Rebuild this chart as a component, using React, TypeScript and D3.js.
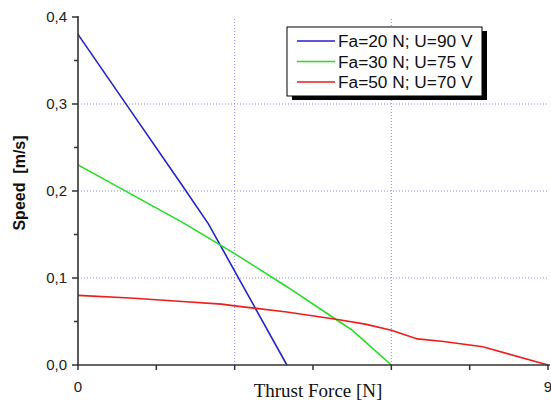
import React from 'react';
import * as d3 from 'd3';

// Speed vs thrust force, three test settings
const forceBlue = [0, 1, 2, 2.5, 3, 4];
const speedBlue = [0.38, 0.293, 0.206, 0.162, 0.108, 0];

const forceGreen = [0, 1, 2, 3, 4, 5, 5.25, 6];
const speedGreen = [0.23, 0.197, 0.164, 0.128, 0.09, 0.05, 0.04, 0];

const forceRed = [0, 1, 2, 2.75, 3, 4, 5, 5.5, 6, 6.5, 7, 7.75, 9];
const speedRed = [0.08, 0.077, 0.073, 0.07, 0.068, 0.061, 0.052, 0.047, 0.04, 0.03, 0.027, 0.021, 0];

const seriesNames = ['Fa=20 N; U=90 V', 'Fa=30 N; U=75 V', 'Fa=50 N; U=70 V'];
const seriesColors = ['#2323cc', '#22dd22', '#ee1c1c'];

const yMajor = [0, 0.1, 0.2, 0.3, 0.4];
const yMinor = [0.05, 0.15, 0.25, 0.35];
const xMajor = [0, 3, 6, 9];
const xMinor = [1.5, 4.5, 7.5];
const xLabelled = [0, 9];
const xGrid = [3, 6];
const yGrid = [0.1, 0.2, 0.3];

const W = 551;
const H = 401;

const App = () => {
    const x = d3.scaleLinear().domain([0, 9]).range([78, 548]);
    const y = d3.scaleLinear().domain([0, 0.4]).range([365, 17]);

    const series = [
        { f: forceBlue, s: speedBlue },
        { f: forceGreen, s: speedGreen },
        { f: forceRed, s: speedRed },
    ].map((d, i) => ({
        pts: d.f.map((v, j) => [v, d.s[j]] as [number, number]),
        color: seriesColors[i],
        name: seriesNames[i],
    }));

    const line = d3.line<[number, number]>()
        .x(d => x(d[0]))
        .y(d => y(d[1]));

    const fmt = (v: number) => v.toFixed(1).replace('.', ',');
    const sans = '"Liberation Sans", Arial, sans-serif';

    // legend box
    const lg = { x: 287, y: 27, w: 195, h: 69 };

    return (
        <svg width={W} height={H} style={{ position: 'absolute', left: 0, top: 0, background: '#fff' }}>
            <rect x={0} y={0} width={W} height={H} fill="#fff" />

            {/* grid */}
            {xGrid.map(v => (
                <line key={'gx' + v} x1={x(v)} x2={x(v)} y1={y(0)} y2={y(0.4)}
                    stroke="#8a8af0" strokeWidth={1} strokeDasharray="1,2" />
            ))}
            {yGrid.map(v => (
                <line key={'gy' + v} x1={x(0)} x2={x(9)} y1={y(v)} y2={y(v)}
                    stroke="#8a8af0" strokeWidth={1} strokeDasharray="1,2" />
            ))}

            {/* data lines */}
            {series.map(s => (
                <path key={s.name} d={line(s.pts) || ''} fill="none" stroke={s.color} strokeWidth={1.6} />
            ))}

            {/* axes */}
            <line x1={x(0)} x2={x(0)} y1={y(0) + 0.5} y2={y(0.4) - 1} stroke="#333" strokeWidth={1.6} />
            <line x1={x(0) - 0.5} x2={x(9) + 2} y1={y(0)} y2={y(0)} stroke="#333" strokeWidth={1.6} />

            {yMajor.map(v => (
                <g key={'ym' + v}>
                    <line x1={x(0) - 6} x2={x(0)} y1={y(v)} y2={y(v)} stroke="#333" strokeWidth={1.5} />
                    <text x={67} y={y(v)} dy="0.35em" textAnchor="end" fontFamily={sans} fontSize={15} fill="#222">
                        {fmt(v)}
                    </text>
                </g>
            ))}
            {yMinor.map(v => (
                <line key={'yn' + v} x1={x(0) - 4} x2={x(0)} y1={y(v)} y2={y(v)} stroke="#333" strokeWidth={1.5} />
            ))}
            {xMajor.map(v => (
                <line key={'xm' + v} x1={x(v)} x2={x(v)} y1={y(0)} y2={y(0) + 5} stroke="#333" strokeWidth={1.5} />
            ))}
            {xMinor.map(v => (
                <line key={'xn' + v} x1={x(v)} x2={x(v)} y1={y(0)} y2={y(0) + 5} stroke="#333" strokeWidth={1.5} />
            ))}
            {xLabelled.map(v => (
                <text key={'xl' + v} x={x(v)} y={392} textAnchor="middle" fontFamily={sans} fontSize={15} fill="#222">
                    {v}
                </text>
            ))}

            {/* axis titles */}
            <text x={318} y={397} textAnchor="middle" fontFamily='"Liberation Serif", "Times New Roman", serif'
                fontSize={19} fill="#111">Thrust Force [N]</text>
            <text transform={`translate(25, 183) rotate(-90)`} textAnchor="middle" fontFamily={sans}
                fontSize={16} fontWeight="bold" fill="#111" style={{ whiteSpace: 'pre' }}>
                {'Speed  [m/s]'}
            </text>

            {/* legend */}
            <rect x={lg.x + 5} y={lg.y + 4} width={lg.w} height={lg.h} fill="#000" />
            <rect x={lg.x} y={lg.y} width={lg.w} height={lg.h} fill="#fff" stroke="#000" strokeWidth={1} />
            {series.map((s, i) => (
                <g key={'lg' + i} transform={`translate(${lg.x + 10}, ${lg.y + 14 + i * 20.5})`}>
                    <line x1={0} x2={38} y1={0} y2={0} stroke={s.color} strokeWidth={1.6} />
                    <text x={41} y={0} dy="0.36em" fontFamily={sans} fontSize={17.3} fill="#111">{s.name}</text>
                </g>
            ))}
        </svg>
    );
};

export default App;
